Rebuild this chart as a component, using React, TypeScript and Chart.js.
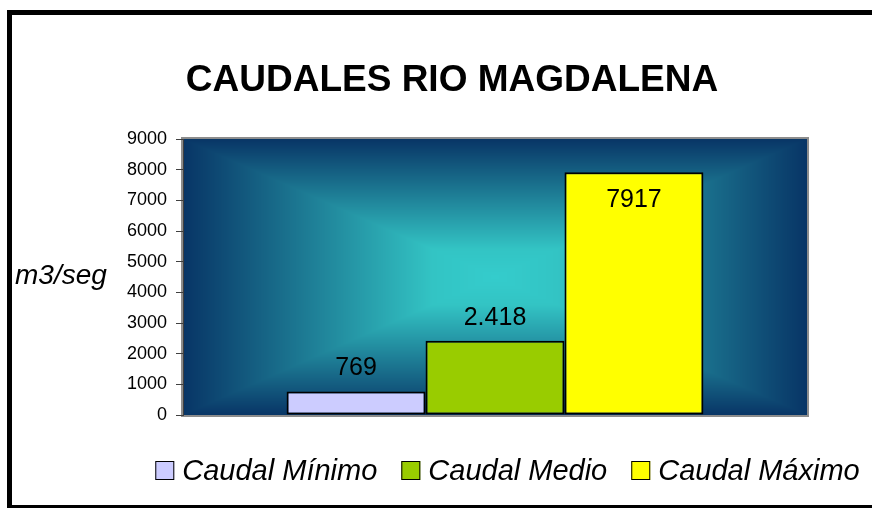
import React, { useEffect, useRef } from 'react';
import { Chart, registerables } from 'chart.js';

Chart.register(...registerables);

const chartTitle = 'CAUDALES RIO MAGDALENA';
const yAxisTitle = 'm3/seg';
const categories = [''];
const seriesNames = ['Caudal Mínimo', 'Caudal Medio', 'Caudal Máximo'];
const seriesValues = [769, 2418, 7917];
const valueLabels = ['769', '2.418', '7917'];
const seriesColors = ['#CCCCFF', '#99CC00', '#FFFF00'];
const yMin = 0;
const yMax = 9000;
const yStep = 1000;

const FONT = '"Liberation Sans", Arial, sans-serif';

const bgPlugin = {
  id: 'bgPlugin',
  beforeDraw(chart: any) {
    const { ctx, chartArea } = chart;
    const { left, right, top, bottom } = chartArea;
    const w = Math.round(right - left);
    const h = Math.round(bottom - top);
    const off = document.createElement('canvas');
    off.width = w;
    off.height = h;
    const octx = off.getContext('2d')!;
    const img = octx.createImageData(w, h);
    const center = [52, 204, 204];
    const mid = [51, 196, 196];
    const edge = [8, 53, 102];
    const hw = w / 2;
    const hh = h / 2;
    for (let y = 0; y < h; y++) {
      for (let x = 0; x < w; x++) {
        const t = Math.max(Math.abs(x + 0.5 - hw) / hw, Math.abs(y + 0.5 - hh) / hh);
        let c;
        if (t < 0.2) {
          const f = t / 0.2;
          c = center.map((v, k) => v + (mid[k] - v) * f);
        } else {
          const f = (t - 0.2) / 0.8;
          c = mid.map((v, k) => v + (edge[k] - v) * f);
        }
        const i = (y * w + x) * 4;
        img.data[i] = c[0];
        img.data[i + 1] = c[1];
        img.data[i + 2] = c[2];
        img.data[i + 3] = 255;
      }
    }
    octx.putImageData(img, 0, 0);
    ctx.save();
    ctx.drawImage(off, left, top, right - left, bottom - top);
    ctx.strokeStyle = '#8C8C8C';
    ctx.lineWidth = 2;
    ctx.strokeRect(left - 1, top - 1, right - left + 2, bottom - top + 2);
    ctx.restore();
  },
};

const labelsPlugin = {
  id: 'labelsPlugin',
  afterDatasetsDraw(chart: any) {
    const { ctx, chartArea } = chart;
    ctx.save();
    ctx.font = `25px ${FONT}`;
    ctx.fillStyle = '#000';
    ctx.textAlign = 'center';
    ctx.textBaseline = 'alphabetic';
    chart.data.datasets.forEach((ds: any, i: number) => {
      const bar = chart.getDatasetMeta(i).data[0];
      if (!bar) return;
      const inside = bar.y - chartArea.top < 45;
      const y = inside ? bar.y + 35 : bar.y - 16;
      ctx.fillText(valueLabels[i], bar.x, y);
    });
    ctx.restore();
  },
  afterDraw(chart: any) {
    const { ctx } = chart;
    ctx.save();
    ctx.font = `bold 37px ${FONT}`;
    ctx.fillStyle = '#000';
    ctx.textAlign = 'center';
    ctx.textBaseline = 'alphabetic';
    ctx.fillText(chartTitle, 440, 76);
    ctx.font = `italic 28px ${FONT}`;
    ctx.textAlign = 'left';
    ctx.fillText(yAxisTitle, 3, 269);
    ctx.font = `italic 29px ${FONT}`;
    const box = 19;
    const gap = 8;
    const itemGap = 24;
    const widths = seriesNames.map((n) => ctx.measureText(n).width);
    const total = widths.reduce((a, w) => a + box + gap + w, 0) + itemGap * (seriesNames.length - 1);
    let x = 495.5 - total / 2;
    const baseline = 465;
    seriesNames.forEach((n, i) => {
      ctx.fillStyle = seriesColors[i];
      ctx.fillRect(x, baseline - box, box, box);
      ctx.strokeStyle = '#000';
      ctx.lineWidth = 1;
      ctx.strokeRect(x + 0.5, baseline - box + 0.5, box - 1, box - 1);
      ctx.fillStyle = '#000';
      ctx.fillText(n, x + box + gap, baseline);
      x += box + gap + widths[i] + itemGap;
    });
    ctx.restore();
  },
};

export default function App() {
  const ref = useRef<HTMLCanvasElement>(null);
  useEffect(() => {
    if (!ref.current) return;
    const chart = new Chart(ref.current, {
      type: 'bar',
      data: {
        labels: categories,
        datasets: seriesNames.map((name, i) => ({
          label: name,
          data: [seriesValues[i]],
          backgroundColor: seriesColors[i],
          borderColor: '#000',
          borderWidth: 2,
          borderSkipped: false,
          categoryPercentage: 0.668,
          barPercentage: 1.0,
        })),
      },
      options: {
        responsive: false,
        animation: false,
        layout: { padding: { left: 0, right: 95, top: 124, bottom: 90 } },
        plugins: {
          legend: { display: false },
          title: { display: false },
          tooltip: { enabled: false },
        },
        scales: {
          x: { display: false },
          y: {
            min: yMin,
            max: yMax,
            ticks: {
              stepSize: yStep,
              color: '#000',
              padding: 9,
              font: { family: FONT, size: 18 },
              callback: (v: any) => String(v),
            },
            grid: {
              drawOnChartArea: false,
              drawTicks: true,
              tickLength: 7,
              color: '#404040',
            },
            border: { display: true, color: '#404040', width: 1 },
            afterFit: (scale: any) => {
              scale.width = 171;
            },
          },
        },
      },
      plugins: [bgPlugin, labelsPlugin],
    });
    return () => chart.destroy();
  }, []);

  return (
    <div style={{ position: 'fixed', left: 0, top: 0, width: 872, height: 508, overflow: 'hidden', background: '#fff' }}>
      <div
        style={{
          position: 'absolute',
          left: 7,
          top: 10,
          width: 900,
          height: 500,
          border: '5px solid #000',
          boxSizing: 'border-box',
          background: '#fff',
        }}
      >
        <canvas ref={ref} width={890} height={490} style={{ display: 'block', width: 890, height: 490 }} />
      </div>
    </div>
  );
}
